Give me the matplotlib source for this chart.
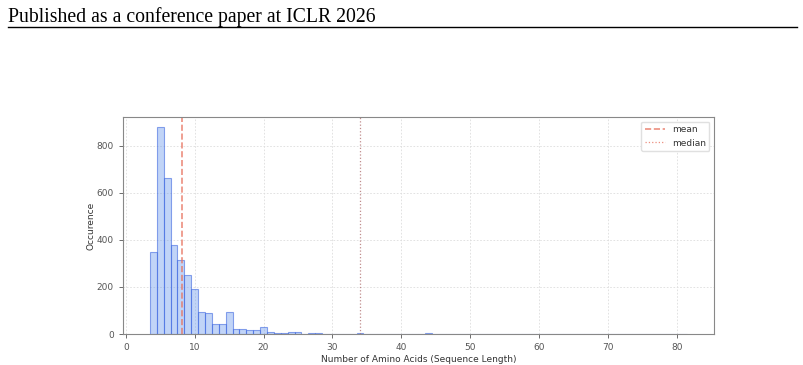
#!/usr/bin/env python3
"""Sequence length histogram (amino acids) with mean / median markers."""
import numpy as np
import matplotlib
matplotlib.use("Agg")
import matplotlib.pyplot as plt

# sequence length -> number of sequences
LENGTHS = [4, 5, 6, 7, 8, 9, 10, 11, 12, 13, 14, 15, 16, 17, 18, 19, 20,
           21, 22, 23, 24, 25, 27, 28, 30, 34, 37, 44, 46, 50, 59, 70, 72, 77, 81]
COUNTS = [348, 879, 662, 379, 313, 252, 190, 92, 88, 41, 41, 92, 21, 20, 17, 15, 28,
          8, 3, 4, 9, 7, 3, 3, 2, 3, 1, 3, 2, 2, 2, 2, 2, 1, 2]

MEAN_LEN = 8.18
MEDIAN_LEN = 34.0

HEADER = "Published as a conference paper at ICLR 2026"

fig = plt.figure(figsize=(8.04, 3.65), dpi=100)

# page header
fig.text(8 / 804, 1 - 22 / 365, HEADER, fontsize=14.2, family="Liberation Serif",
         ha="left", va="baseline")
fig.add_artist(plt.Line2D([8 / 804, 797 / 804], [1 - 27 / 365, 1 - 27 / 365],
                          color="black", linewidth=1.0))

ax = fig.add_axes([123 / 804, 31 / 365, (714 - 123) / 804, (334 - 117) / 365])

edges = np.arange(min(LENGTHS) - 0.5, max(LENGTHS) + 1.5, 1.0)
ax.hist(LENGTHS, bins=edges, weights=COUNTS, facecolor=(0.392, 0.584, 0.929, 0.4),
        edgecolor=(0.25, 0.41, 0.88, 0.6), linewidth=0.8)

ax.axvline(MEAN_LEN, color="#e8735f", alpha=0.8, linestyle="--", linewidth=1.2, label="mean")
ax.axvline(MEDIAN_LEN, color="#b07070", alpha=0.8, linestyle=":", linewidth=0.9, label="median")

ax.set_xticks(np.arange(0, 81, 10))
ax.set_yticks(np.arange(0, 801, 200))
ax.grid(True, color="#dddddd", linestyle=(0, (2, 2)), linewidth=0.6)
ax.set_axisbelow(True)

for s in ax.spines.values():
    s.set_color("#888888")
ax.tick_params(colors="#555555", labelsize=6.5, length=3, width=0.6)
ax.set_xlabel("Number of Amino Acids (Sequence Length)", fontsize=6.5, color="#333333", labelpad=2)
ax.set_ylabel("Occurence", fontsize=6.5, color="#333333", labelpad=1)

leg = ax.legend(loc="upper right", fontsize=6.5, frameon=True, framealpha=1.0,
                edgecolor="#e0e0e0", handlelength=2.2)
leg.get_lines()[1].set_color("#e8735f")
for t in leg.get_texts():
    t.set_color("#333333")

fig.savefig("out.png", dpi=100)
